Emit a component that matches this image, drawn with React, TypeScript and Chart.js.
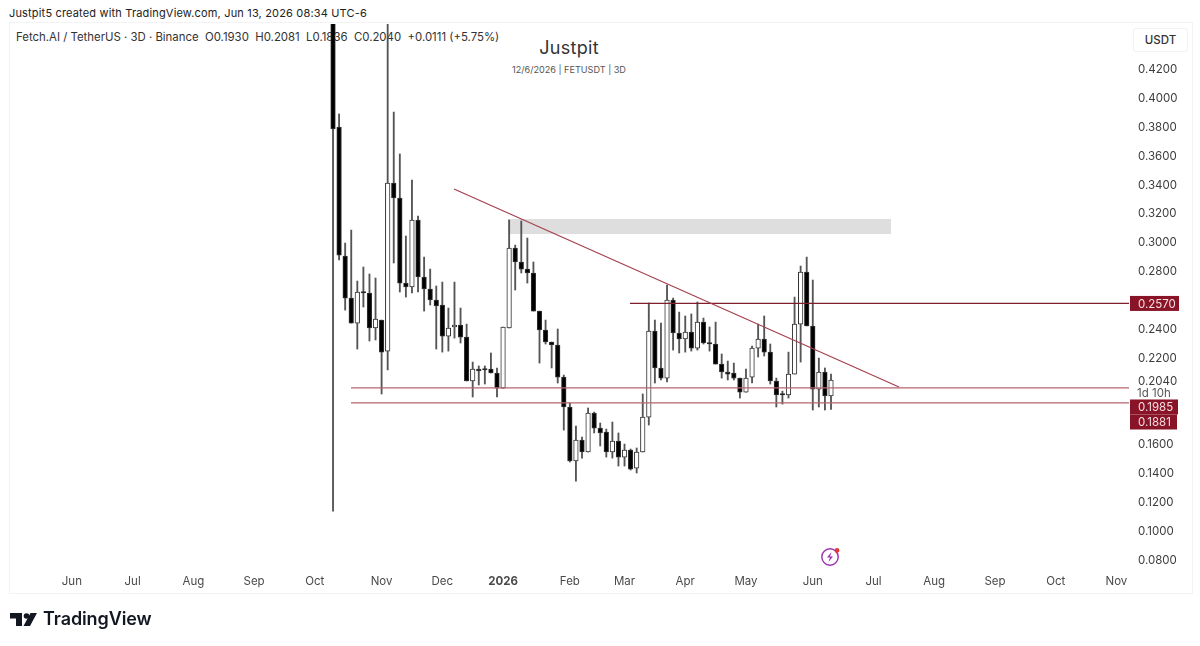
import React, { useEffect, useRef } from "react";
import { Chart, registerables } from "chart.js";

Chart.register(...registerables);

const opens = [0.62,0.3792,0.2898,0.2607,0.2434,0.2649,0.2642,0.24,0.2455,0.224,0.3404,0.33,0.2711,0.2684,0.3148,0.2753,0.267,0.2594,0.2559,0.2344,0.2407,0.242,0.2337,0.2033,0.2116,0.2116,0.2116,0.2088,0.1984,0.24,0.2954,0.2857,0.2808,0.2781,0.2517,0.2386,0.2303,0.2282,0.206,0.1853,0.1479,0.1624,0.1541,0.1811,0.1707,0.1679,0.1541,0.1617,0.1506,0.1555,0.143,0.1541,0.1783,0.2379,0.2123,0.2053,0.2594,0.2365,0.2324,0.2372,0.2261,0.2441,0.2296,0.2289,0.215,0.2095,0.2088,0.2053,0.1956,0.206,0.2261,0.2324,0.2233,0.2033,0.1943,0.1936,0.2081,0.2427,0.2787,0.2414,0.1977,0.2095,0.193];
const highs = [0.65,0.3882,0.2988,0.3078,0.2725,0.2822,0.2774,0.2746,0.2455,0.65,0.3895,0.3605,0.3037,0.3425,0.3175,0.2891,0.2808,0.2691,0.2718,0.2538,0.2718,0.2538,0.2427,0.2164,0.2137,0.2137,0.2227,0.2123,0.2407,0.3148,0.2974,0.3141,0.3023,0.2857,0.2517,0.2455,0.2303,0.2393,0.2074,0.188,0.1721,0.1645,0.1846,0.1818,0.1742,0.17,0.1749,0.1673,0.1596,0.1562,0.1569,0.1943,0.2573,0.2455,0.2434,0.2697,0.2607,0.251,0.2483,0.2497,0.258,0.2469,0.2407,0.2441,0.222,0.2171,0.2157,0.2053,0.2116,0.2275,0.2427,0.2483,0.2289,0.2053,0.1963,0.2233,0.2614,0.2829,0.2891,0.2732,0.2192,0.2123,0.2081];
const lows = [0.1132,0.2871,0.2524,0.2434,0.2254,0.2545,0.231,0.2317,0.1943,0.2109,0.285,0.2649,0.2614,0.2642,0.2649,0.2517,0.2559,0.2254,0.2233,0.224,0.233,0.2296,0.2033,0.1922,0.2005,0.2012,0.2088,0.1922,0.1984,0.24,0.2663,0.2781,0.2711,0.2517,0.2157,0.2289,0.2123,0.2019,0.1693,0.1472,0.134,0.1499,0.1541,0.1673,0.1583,0.1506,0.1499,0.1444,0.1444,0.1416,0.1396,0.1541,0.1728,0.2019,0.204,0.2026,0.2247,0.2227,0.2233,0.224,0.2247,0.2289,0.224,0.215,0.2053,0.204,0.204,0.1915,0.1956,0.2019,0.2199,0.2206,0.2012,0.1853,0.1873,0.1915,0.2081,0.2164,0.2414,0.1832,0.1853,0.1832,0.1836];
const closes = [0.3778,0.2905,0.2607,0.2434,0.2649,0.2642,0.24,0.2462,0.2233,0.3404,0.33,0.2711,0.2684,0.3148,0.2753,0.267,0.2594,0.2552,0.2344,0.24,0.242,0.2337,0.2033,0.2116,0.2102,0.2109,0.2088,0.1984,0.2407,0.2954,0.2857,0.2808,0.2781,0.2517,0.2386,0.2303,0.2282,0.206,0.1853,0.1479,0.1624,0.1541,0.1811,0.1707,0.1673,0.1541,0.1617,0.1506,0.1555,0.1423,0.1541,0.1783,0.2379,0.2123,0.2053,0.2594,0.2365,0.2324,0.2372,0.2261,0.2441,0.2296,0.2289,0.215,0.2095,0.2081,0.2053,0.1956,0.2053,0.2261,0.2324,0.2233,0.2033,0.1936,0.1936,0.2081,0.2427,0.2787,0.2414,0.1977,0.2095,0.1929,0.204];

const monthLabels = ["Jun","Jul","Aug","Sep","Oct","Nov","Dec","2026","Feb","Mar","Apr","May","Jun","Jul","Aug","Sep","Oct","Nov"];
const monthCandles = [-43,-33,-23,-13,-3,8,18,28,39,48,58,68,79,89,99,109,119,129];
const priceTicks = [0.42,0.4,0.38,0.36,0.34,0.32,0.3,0.28,0.24,0.22,0.204,0.16,0.14,0.12,0.1,0.08];

const xStart = -53.19;
const xEnd = 131.07;
const trendX = [19.92, 93.2];
const trendY = [0.3362, 0.1991];
const level1X = [48.9, xEnd];
const level1Y = 0.257;
const level2X = [2.96, xEnd];
const level2Y = 0.1985;
const level3Y = 0.1881;
const zoneX = [28.8, 91.9];
const zoneTop = 0.3155;
const zoneBottom = 0.3051;

const tagTexts = ["0.2570", "0.1985", "0.1881"];
const tagAnchors = [0.257, 0.1853, 0.1749];
const tagWidths = [49, 48, 47];

const candleX = opens.map((_, i) => i);
const isUp = opens.map((o, i) => closes[i] >= o);

const tagsPlugin = {
  id: "tags",
  afterDraw(chart: any) {
    const { ctx, scales } = chart;
    const y = scales.y;
    const right = chart.chartArea.right;
    ctx.save();
    ctx.fillStyle = "#ffffff";
    ctx.fillRect(right - 2, chart.chartArea.bottom + 2, 10, 22);
    tagTexts.forEach((t, i) => {
      const cy = y.getPixelForValue(tagAnchors[i]);
      ctx.fillStyle = "#8a1427";
      ctx.fillRect(right + 1, cy - 7.5, tagWidths[i], 15);
      ctx.fillStyle = "#f4dfe2";
      ctx.font = "11.5px Inter";
      ctx.textAlign = "left";
      ctx.textBaseline = "middle";
      ctx.fillText(t, right + 9, cy + 1);
    });
    ctx.fillStyle = "#555";
    ctx.font = "11.5px Inter";
    ctx.textAlign = "left";
    ctx.textBaseline = "middle";
    ctx.fillText("1d 10h", right + 8, y.getPixelForValue(0.1945));
    ctx.restore();
  },
};

const overlayBase: React.CSSProperties = { position: "absolute", whiteSpace: "pre", fontFamily: "Inter, sans-serif" };

export default function App() {
  const ref = useRef<HTMLCanvasElement | null>(null);
  useEffect(() => {
    if (!ref.current) return;
    const line = (xs: number[], ys: number[], color: string, width: number) => ({
      type: "line" as const,
      data: [{ x: xs[0], y: ys[0] }, { x: xs[1], y: ys[1] }],
      borderColor: color,
      borderWidth: width,
      pointRadius: 0,
      order: 0,
    });
    const chart = new Chart(ref.current, {
      type: "bar",
      data: {
        datasets: [
          {
            type: "line",
            data: [{ x: zoneX[0], y: zoneTop }, { x: zoneX[1], y: zoneTop }],
            borderWidth: 0,
            pointRadius: 0,
            backgroundColor: "#dedede",
            fill: { target: { value: zoneBottom } },
            order: 5,
          },
          {
            data: candleX.map((x, i) => ({ x, y: [lows[i], highs[i]] })),
            backgroundColor: "#555555",
            barThickness: 1.2,
            order: 3,
            grouped: false,
          },
          {
            data: candleX.map((x, i) => ({ x, y: [Math.min(opens[i], closes[i]), Math.max(opens[i], closes[i])] })),
            backgroundColor: isUp.map((u) => (u ? "#ffffff" : "#000000")),
            borderColor: "#333333",
            borderWidth: 1,
            borderSkipped: false,
            barThickness: 4.6,
            minBarLength: 1.5,
            order: 2,
            grouped: false,
          },
          line(trendX, trendY, "#a3404f", 1.2),
          line(level1X, [level1Y, level1Y], "#7f1f2e", 1.2),
          line(level2X, [level2Y, level2Y], "#b4666f", 1.2),
          line(level2X, [level3Y, level3Y], "#b4666f", 1.2),
        ] as any,
      },
      options: {
        responsive: false,
        animation: false,
        events: [],
        layout: { padding: { left: 10, top: 24, right: 8, bottom: 53 } },
        plugins: { legend: { display: false }, tooltip: { enabled: false } },
        scales: {
          x: {
            type: "linear",
            min: xStart,
            max: xEnd,
            offset: false,
            grid: { display: false, drawTicks: false },
            border: { display: false },
            afterBuildTicks: (axis: any) => {
              axis.ticks = monthCandles.map((value) => ({ value }));
            },
            afterFit: (axis: any) => {
              axis.height = 25;
            },
            ticks: {
              autoSkip: false,
              maxRotation: 0,
              padding: 7,
              color: "#4a4a4a",
              font: (c: any) => ({ family: "Inter", size: 11.5, weight: c.tick && c.tick.label === "2026" ? "bold" : "normal" }),
              callback: (_v: any, i: number) => monthLabels[i],
            },
          },
          y: {
            position: "right",
            min: 0.0738,
            max: 0.4505,
            grid: { display: false, drawTicks: false },
            border: { display: false },
            afterBuildTicks: (axis: any) => {
              axis.ticks = priceTicks.map((value) => ({ value }));
            },
            afterFit: (axis: any) => {
              axis.width = 63;
            },
            ticks: {
              autoSkip: false,
              padding: 9,
              color: "#3c3c3c",
              font: { family: "Inter", size: 11.5, lineHeight: "3px" },
              callback: (v: any) => ["", Number(v).toFixed(4)],
            },
          },
        },
      } as any,
      plugins: [tagsPlugin],
    });
    return () => chart.destroy();
  }, []);

  return (
    <div style={{ position: "absolute", left: 0, top: 0, width: 1200, height: 646, background: "#ffffff", overflow: "hidden" }}>
      <div style={{ position: "absolute", left: 9, top: 22, width: 1182, height: 570, border: "1px solid #f3f3f3" }} />
      <div style={{ ...overlayBase, left: 9, top: 5, fontSize: 11, color: "#222", letterSpacing: 0.17, lineHeight: "16px" }}>
        Justpit5 created with TradingView.com, Jun 13, 2026 08:34 UTC-6
      </div>
      <div style={{ ...overlayBase, left: 16, top: 29, fontSize: 11.4, color: "#333", lineHeight: "16px" }}>
        Fetch.AI / TetherUS · 3D · Binance  O0.1930  H0.2081  L0.1836  C0.2040  +0.0111 (+5.75%)
      </div>
      <div style={{ ...overlayBase, left: 369, width: 400, top: 37, textAlign: "center", fontSize: 18, color: "#333", letterSpacing: 0.3, lineHeight: "22px" }}>
        Justpit
      </div>
      <div style={{ ...overlayBase, left: 369, width: 400, top: 64, textAlign: "center", fontSize: 9.1, color: "#555", lineHeight: "12px" }}>
        12/6/2026 | FETUSDT | 3D
      </div>
      <div style={{ ...overlayBase, left: 1133, top: 28, width: 53, height: 22, border: "1px solid #f3f3f3", borderRadius: 3, textAlign: "center", fontSize: 11.5, fontWeight: 500, color: "#333", lineHeight: "22px" }}>
        USDT
      </div>
      <canvas ref={ref} width={1200} height={646} style={{ position: "absolute", left: 0, top: 0, width: 1200, height: 646, display: "block" }} />
      <svg width={24} height={24} viewBox="0 0 24 24" style={{ position: "absolute", left: 818, top: 545 }}>
        <circle cx={12} cy={12} r={8.2} fill="none" stroke="#9c2fb5" strokeWidth={1.4} />
        <path d="M13.5 7 L9 12.5 H12 L10.5 17 L15 11.5 H12 Z" fill="#9c2fb5" />
        <circle cx={19} cy={5.5} r={2.4} fill="#e53935" />
      </svg>
      <svg width={28} height={16} viewBox="0 0 28 16" style={{ position: "absolute", left: 10, top: 611 }}>
        <path d="M0 2 H12 V15 H6 V7.5 H0 Z" fill="#131722" />
        <circle cx={16.5} cy={5} r={2.8} fill="#131722" />
        <path d="M20.5 2 H27 L20 15 H13.5 Z" fill="#131722" />
      </svg>
      <div style={{ ...overlayBase, left: 43, top: 607, fontSize: 18, fontWeight: 600, color: "#131722", lineHeight: "24px", letterSpacing: -0.1 }}>
        TradingView
      </div>
    </div>
  );
}
